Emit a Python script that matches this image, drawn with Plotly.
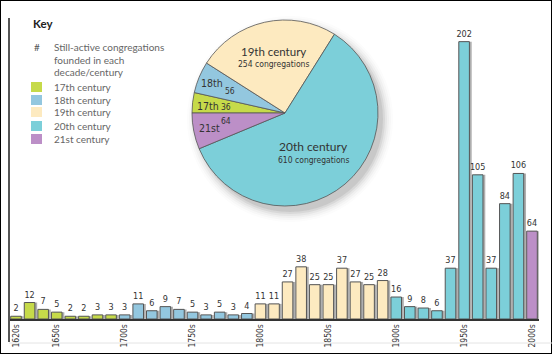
import plotly.graph_objects as go

# ---------------- data ----------------
decades_17 = ["1620s", "1630s", "1640s", "1650s", "1660s", "1670s", "1680s", "1690s"]
decades_18 = ["1700s", "1710s", "1720s", "1730s", "1740s", "1750s", "1760s", "1770s", "1780s", "1790s"]
decades_19 = ["1800s", "1810s", "1820s", "1830s", "1840s", "1850s", "1860s", "1870s", "1880s", "1890s"]
decades_20 = ["1900s", "1910s", "1920s", "1930s", "1940s", "1950s", "1960s", "1970s", "1980s", "1990s"]
decades_21 = ["2000s"]

values_17 = [2, 12, 7, 5, 2, 2, 3, 3]
values_18 = [3, 11, 6, 9, 7, 5, 3, 5, 3, 4]
values_19 = [11, 11, 27, 38, 25, 25, 37, 27, 25, 28]
values_20 = [16, 9, 8, 6, 37, 202, 105, 37, 84, 106]
values_21 = [64]

tick_labels = ["1620s", "1650s", "1700s", "1750s", "1800s", "1850s", "1900s", "1950s", "2000s"]

pie_labels = ["17th", "18th", "19th", "20th", "21st"]
pie_values = [36, 56, 254, 610, 64]

key_labels = ["17th century", "18th century", "19th century", "20th century", "21st century"]

colors = ["#c6da4a", "#93c7df", "#fdeac0", "#7ccfd9", "#bc8fc7"]

# ---------------- helpers ----------------
W, H = 552, 354
def px(x):
    return x / W
def py(y):
    return 1 - y / H

all_decades = decades_17 + decades_18 + decades_19 + decades_20 + decades_21
all_values = values_17 + values_18 + values_19 + values_20 + values_21
groups = [(decades_17, values_17), (decades_18, values_18), (decades_19, values_19),
          (decades_20, values_20), (decades_21, values_21)]

cond_font = "Liberation Sans Narrow, DejaVu Sans Condensed, Roboto Condensed, Lato, sans-serif"
main_font = "Lato, Open Sans, sans-serif"

fig = go.Figure()

BW = 0.78
# shadow bars
fig.add_trace(go.Bar(
    x=all_decades, y=all_values, width=BW, offset=-BW / 2 + 0.17,
    marker=dict(color="rgba(110,110,110,0.55)", line=dict(width=0)),
    hoverinfo="skip", showlegend=False,
))
for (dec, vals), col in zip(groups, colors):
    fig.add_trace(go.Bar(
        x=dec, y=vals, width=BW, offset=-BW / 2,
        marker=dict(color=col, line=dict(color="#555555", width=1)),
        text=[str(v) for v in vals], textposition="outside", constraintext="none",
        textfont=dict(family=cond_font, size=9, color="#333333"),
        cliponaxis=False, showlegend=False, hoverinfo="skip",
    ))

# pie
pie_x0, pie_x1 = 192, 378
pie_y0, pie_y1 = 20, 206
fig.add_trace(go.Pie(
    labels=pie_labels, values=pie_values, sort=False, direction="clockwise",
    rotation=270, textinfo="none", hoverinfo="skip",
    marker=dict(colors=colors, line=dict(color="#555555", width=0.8)),
    domain=dict(x=[px(pie_x0), px(pie_x1)], y=[py(pie_y1), py(pie_y0)]),
    showlegend=False,
))

shapes = []
# pie drop shadow (soft)
cx, cy, r = 285, 113, 93
for k, (dr, op) in enumerate([(0, 0.10), (2, 0.07), (4, 0.05), (6, 0.035), (8, 0.025), (10, 0.015)]):
    ox, oy = 5, 6
    shapes.append(dict(type="circle", xref="paper", yref="paper",
                       x0=px(cx + ox - r - dr), x1=px(cx + ox + r + dr),
                       y0=py(cy + oy + r + dr), y1=py(cy + oy - r - dr),
                       fillcolor=f"rgba(60,60,60,{op})", line=dict(width=0), layer="below"))
# outer border
shapes.append(dict(type="rect", xref="paper", yref="paper", x0=0, x1=1, y0=0, y1=1,
                   line=dict(color="#000000", width=2)))
# left vertical rule
shapes.append(dict(type="line", xref="paper", yref="paper", x0=px(9), x1=px(9),
                   y0=py(342), y1=py(18), line=dict(color="#555555", width=2)))
# faint bottom rule
shapes.append(dict(type="line", xref="paper", yref="paper", x0=px(9), x1=px(552),
                   y0=py(343), y1=py(343), line=dict(color="#e4e4e4", width=1)))
# key swatches
sw_tops = [82, 95, 107, 121, 134]
for t, col in zip(sw_tops, colors):
    shapes.append(dict(type="rect", xref="paper", yref="paper", x0=px(31), x1=px(42),
                       y0=py(t + 10), y1=py(t), fillcolor=col, line=dict(width=0)))

annotations = []
def ann(x, y, text, size, color="#444444", family=main_font, xanchor="left"):
    annotations.append(dict(x=px(x), y=py(y), xref="paper", yref="paper", text=text,
                            showarrow=False, xanchor=xanchor, yanchor="middle",
                            font=dict(family=family, size=size, color=color)))

ann(31, 23, "<b>Key</b>", 11.5, "#222222")
ann(32, 47, "#", 10, "#555555")
ann(52, 47, "Still-active congregations", 10, "#666666")
ann(52, 60, "founded in each", 10, "#666666")
ann(52, 72, "decade/century", 10, "#666666")
for t, lab in zip(sw_tops, key_labels):
    ann(52, t + 5, lab, 10, "#666666")

# pie labels
ann(273, 51, "19th century", 11.5, "#333333", xanchor="center")
ann(273, 64, "254 congregations", 8.5, "#333333", family=cond_font, xanchor="center")
ann(313, 146, "20th century", 12, "#333333", xanchor="center")
ann(313, 160, "610 congregations", 8.5, "#333333", family=cond_font, xanchor="center")
ann(212, 83, "18th", 10.5, "#333333", family=cond_font, xanchor="center")
ann(230, 91, "56", 8.5, "#333333", family=cond_font, xanchor="center")
ann(208, 106, "17th", 10.5, "#333333", family=cond_font, xanchor="center")
ann(226, 107, "36", 8.5, "#333333", family=cond_font, xanchor="center")
ann(209, 128, "21st", 10.5, "#333333", family=cond_font, xanchor="center")
ann(226, 121, "64", 8.5, "#333333", family=cond_font, xanchor="center")

# bar axes geometry
bar_c0, bar_c1 = 16, 532
step = (bar_c1 - bar_c0) / 38
x_left = bar_c0 - step / 2
x_right = bar_c1 + step / 2
base_y, top_y = 319, 20
ppu = 1.373

fig.update_layout(
    width=W, height=H, margin=dict(l=0, r=0, t=0, b=0),
    paper_bgcolor="white", plot_bgcolor="rgba(0,0,0,0)",
    barmode="overlay", showlegend=False,
    shapes=shapes, annotations=annotations,
    xaxis=dict(type="category", categoryorder="array", categoryarray=all_decades,
               range=[-0.5, 38.5], domain=[px(x_left), px(x_right)],
               tickmode="array", tickvals=tick_labels, ticktext=tick_labels,
               tickangle=-90, tickfont=dict(family=cond_font, size=8.5, color="#333333"),
               ticks="", showline=True, linecolor="#333333", linewidth=1.5,
               showgrid=False, zeroline=False, fixedrange=True),
    yaxis=dict(visible=False, range=[0, (base_y - top_y) / ppu],
               domain=[py(base_y), py(top_y)], fixedrange=True),
)

fig.write_html("out.html")
